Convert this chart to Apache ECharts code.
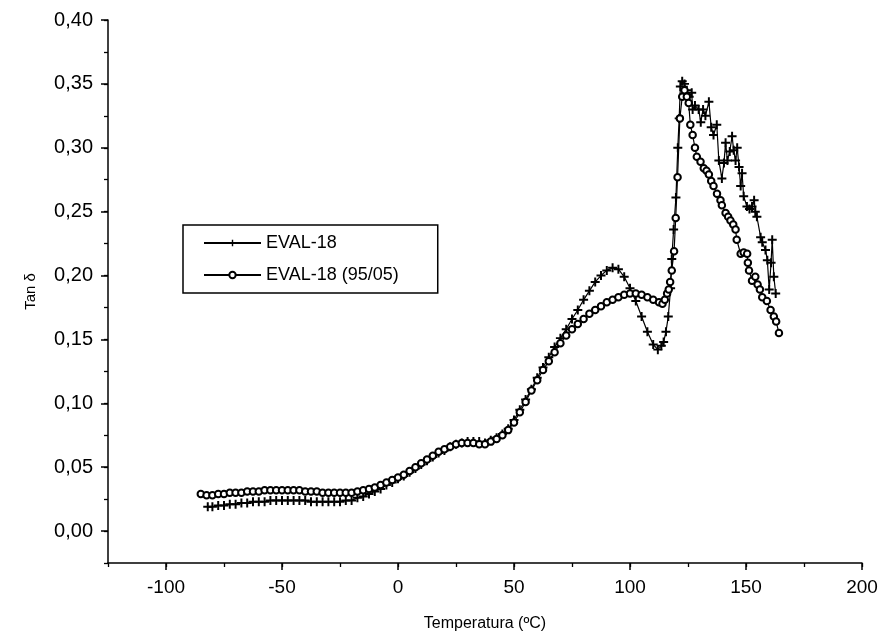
<!DOCTYPE html>
<html><head><meta charset="utf-8">
<script src="https://cdn.jsdelivr.net/npm/echarts@6/dist/echarts.min.js"></script>
<style>html,body{margin:0;padding:0;background:#fff}#c{width:889px;height:638px}</style>
</head><body><div id="c"></div>
<script>
// ---- data ----
const seriesNames = ['EVAL-18', 'EVAL-18 (95/05)'];

const tempA = [-82,-80,-77.5,-75,-72.5,-70,-67.5,-65,-62.5,-60,-57.5,-55,-52.5,-50,-47.5,-45,-42.5,-40,-37.5,-35,-32.5,-30,-27.5,-25,-22.5,-20,-17.5,-15,-12.5,-10,-7.5,-5,-2.5,0,2.5,5,7.5,10,12.5,15,17.5,20,22.5,25,27.5,30,32.5,35,37.5,40,42.5,45,47.5,50,52.5,55,57.5,60,62.5,65,67.5,70,72.5,75,77.5,80,82.5,85,87.5,90,92.5,95,97.5,100,102.5,105,107.5,110,112,113.5,114.5,115.5,116.5,117.5,118,118.8,119.8,120.6,121.2,121.7,122.5,123.5,124.5,125.5,126.6,127,128,129.6,130.5,131.5,132.5,134,135,136,137.4,138.3,139.6,140.5,141.2,142,143,144,144.7,145.5,146.2,147,147.7,148.3,149,150.4,151.5,152.6,153.5,154,154.7,156.3,157,158.4,159.2,160,160.8,161.3,162,162.8];
const tanA  = [0.019,0.019,0.020,0.020,0.021,0.021,0.022,0.022,0.023,0.023,0.023,0.024,0.024,0.024,0.024,0.024,0.024,0.024,0.023,0.023,0.023,0.023,0.023,0.023,0.024,0.024,0.026,0.027,0.029,0.031,0.033,0.036,0.038,0.041,0.043,0.046,0.049,0.052,0.055,0.058,0.061,0.063,0.066,0.068,0.069,0.070,0.070,0.070,0.069,0.071,0.073,0.076,0.080,0.087,0.095,0.103,0.111,0.120,0.128,0.136,0.144,0.151,0.158,0.166,0.173,0.181,0.188,0.195,0.200,0.204,0.206,0.205,0.199,0.190,0.180,0.168,0.156,0.146,0.142,0.145,0.148,0.156,0.168,0.190,0.213,0.236,0.261,0.300,0.323,0.348,0.352,0.350,0.345,0.340,0.343,0.330,0.333,0.330,0.320,0.330,0.325,0.336,0.316,0.310,0.318,0.290,0.276,0.288,0.304,0.290,0.297,0.309,0.298,0.290,0.300,0.285,0.270,0.280,0.262,0.254,0.252,0.254,0.259,0.250,0.246,0.230,0.226,0.220,0.212,0.189,0.210,0.228,0.199,0.186];

const tempB = [-85,-82.5,-80,-77.5,-75,-72.5,-70,-67.5,-65,-62.5,-60,-57.5,-55,-52.5,-50,-47.5,-45,-42.5,-40,-37.5,-35,-32.5,-30,-27.5,-25,-22.5,-20,-17.5,-15,-12.5,-10,-7.5,-5,-2.5,0,2.5,5,7.5,10,12.5,15,17.5,20,22.5,25,27.5,30,32.5,35,37.5,40,42.5,45,47.5,50,52.5,55,57.5,60,62.5,65,67.5,70,72.5,75,77.5,80,82.5,85,87.5,90,92.5,95,97.5,100,102.5,105,107.5,110,112.5,114,115,116,116.7,117.3,118,119,119.7,120.5,121.5,122.5,123.5,124.5,125.3,126,127,128,128.8,130.4,131.8,133,134,135,136,137.5,139,139.6,141.2,142.3,143.3,144.5,145.5,146,147.7,149,150.5,150.8,151.3,152.6,154,155,156,157,159,160.6,162,163,164.2];
const tanB  = [0.029,0.028,0.028,0.029,0.029,0.030,0.030,0.030,0.031,0.031,0.031,0.032,0.032,0.032,0.032,0.032,0.032,0.032,0.031,0.031,0.031,0.030,0.030,0.030,0.030,0.030,0.030,0.031,0.032,0.033,0.034,0.036,0.038,0.040,0.042,0.044,0.047,0.050,0.053,0.056,0.059,0.062,0.064,0.066,0.068,0.069,0.069,0.069,0.068,0.068,0.070,0.072,0.075,0.079,0.085,0.093,0.101,0.110,0.118,0.126,0.133,0.140,0.147,0.153,0.158,0.162,0.166,0.170,0.173,0.176,0.179,0.181,0.183,0.185,0.186,0.186,0.185,0.183,0.181,0.179,0.178,0.181,0.186,0.189,0.195,0.204,0.219,0.245,0.277,0.323,0.340,0.345,0.340,0.335,0.318,0.310,0.300,0.293,0.289,0.284,0.282,0.279,0.274,0.270,0.264,0.259,0.255,0.249,0.246,0.243,0.240,0.236,0.228,0.217,0.218,0.217,0.210,0.204,0.196,0.199,0.193,0.189,0.183,0.180,0.173,0.168,0.164,0.155];

const xRange = [-125, 200];      // axis extent
const xMajor = [-100, 50];       // first labelled tick, step
const xMinorStep = 25;
const yRange = [-0.025, 0.40];
const yMajor = [0, 0.05];
const yMinorStep = 0.025;
const xTitle = 'Temperatura (ºC)';
const yTitle = 'Tan δ';

// ---- layout ----
const CW = 889, CH = 638;
const G = {left: 108, right: 27, top: 20, bottom: 75};
const W = CW - G.left - G.right, H = CH - G.top - G.bottom;
const majLeft = G.left + (xMajor[0] - xRange[0]) / (xRange[1] - xRange[0]) * W;
const majBottom = G.bottom + (yMajor[0] - yRange[0]) / (yRange[1] - yRange[0]) * H;

const FONT = 'Liberation Sans, Arial, sans-serif';
const zip = (a, b) => a.map((v, i) => [v, b[i]]);
const plus = 'path://M3.9,0H6.1V3.9H10V6.1H6.1V10H3.9V6.1H0V3.9H3.9Z';

const chart = echarts.init(document.getElementById('c'), null, {renderer: 'canvas'});
chart.setOption({
  animation: false,
  backgroundColor: '#fff',
  grid: [
    {left: G.left, right: G.right, top: G.top, bottom: G.bottom, containLabel: false},
    {left: majLeft, right: G.right, top: G.top, bottom: majBottom, containLabel: false}
  ],
  legend: {
    left: 183, top: 225, orient: 'vertical',
    itemWidth: 57, itemHeight: 8, itemGap: 12,
    padding: [8, 39, 8, 20],
    borderColor: '#000', borderWidth: 1.5, backgroundColor: '#fff',
    textStyle: {fontFamily: FONT, fontSize: 18, color: '#000', lineHeight: 20},
    data: seriesNames
  },
  xAxis: [
    {gridIndex: 0, type: 'value', min: xRange[0], max: xRange[1], interval: xMinorStep,
     axisLine: {onZero: false, lineStyle: {color: '#000', width: 1.5}},
     axisTick: {length: 4, lineStyle: {color: '#000', width: 1.3}},
     axisLabel: {show: false}, splitLine: {show: false},
     name: xTitle, nameLocation: 'middle', nameGap: 53,
     nameTextStyle: {fontFamily: FONT, fontSize: 16, color: '#000'}},
    {gridIndex: 1, type: 'value', min: xMajor[0], max: xRange[1], interval: xMajor[1],
     offset: majBottom - G.bottom,
     axisLine: {show: false, onZero: false},
     axisTick: {length: 7, lineStyle: {color: '#000', width: 1.5}},
     axisLabel: {fontFamily: FONT, fontSize: 19, color: '#000', margin: 15},
     splitLine: {show: false}}
  ],
  yAxis: [
    {gridIndex: 0, type: 'value', min: yRange[0], max: yRange[1], interval: yMinorStep,
     axisLine: {show: true, onZero: false, lineStyle: {color: '#000', width: 1.5}},
     axisTick: {show: true, length: 4, lineStyle: {color: '#000', width: 1.3}},
     axisLabel: {show: false}, splitLine: {show: false},
     name: yTitle, nameLocation: 'middle', nameGap: 70, nameRotate: 90,
     nameTextStyle: {fontFamily: FONT, fontSize: 15, color: '#000'}},
    {gridIndex: 1, type: 'value', min: yMajor[0], max: yRange[1], interval: yMajor[1],
     offset: majLeft - G.left,
     axisLine: {show: false, onZero: false},
     axisTick: {show: true, length: 7, lineStyle: {color: '#000', width: 1.5}},
     axisLabel: {fontFamily: FONT, fontSize: 20, color: '#000', margin: 15,
       formatter: v => v.toFixed(2).replace('.', ',')},
     splitLine: {show: false}}
  ],
  series: [
    {name: seriesNames[0], type: 'line', xAxisIndex: 0, yAxisIndex: 0,
     data: zip(tempA, tanA), symbol: plus, symbolSize: 9,
     itemStyle: {color: '#000'}, lineStyle: {color: '#000', width: 1.2}},
    {name: seriesNames[1], type: 'line', xAxisIndex: 0, yAxisIndex: 0,
     data: zip(tempB, tanB), symbol: 'emptyCircle', symbolSize: 6.5,
     itemStyle: {color: '#000', borderColor: '#000', borderWidth: 1.5},
     lineStyle: {color: '#000', width: 1.2}}
  ]
});
</script>
</body></html>
